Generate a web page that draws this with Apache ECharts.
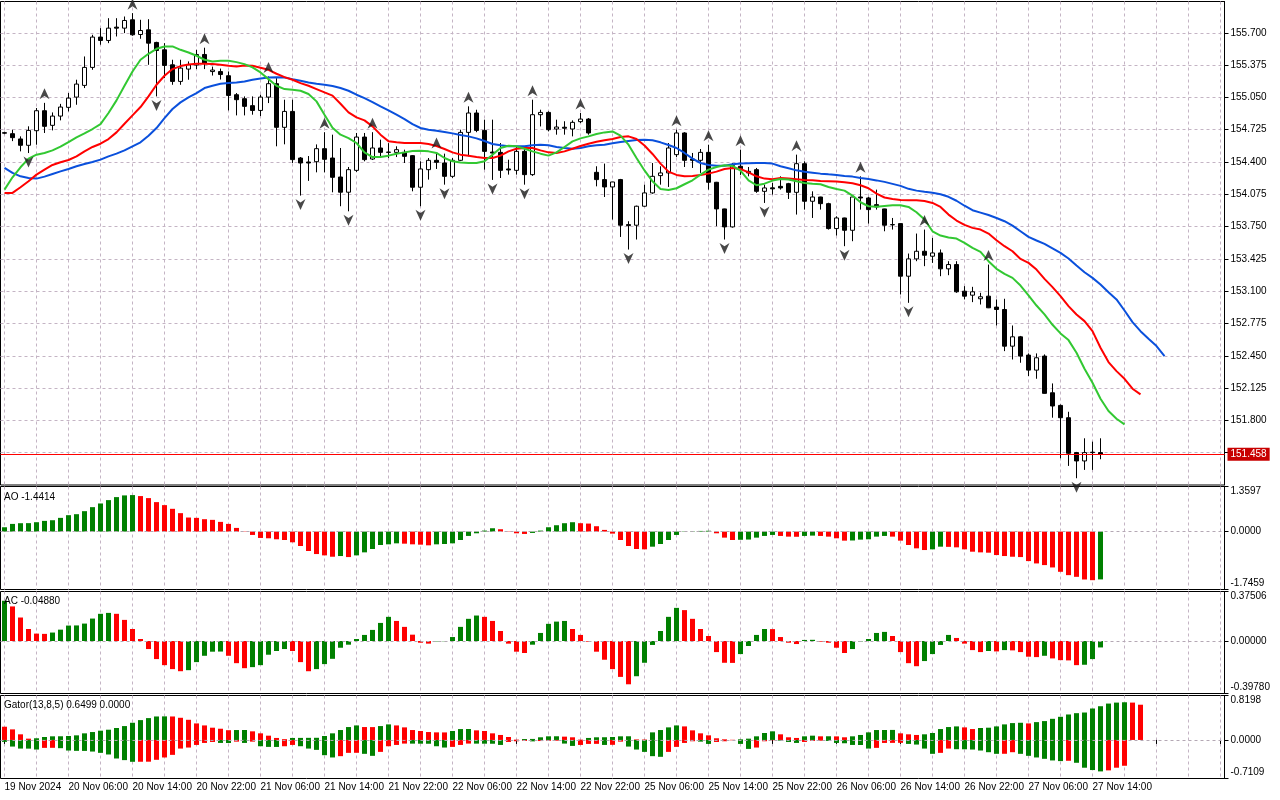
<!DOCTYPE html>
<html>
<head>
<meta charset="utf-8">
<title>H1 chart with Alligator, Fractals, AO, AC, Gator</title>
<script src="https://cdn.jsdelivr.net/npm/echarts@6/dist/echarts.min.js"></script>
<style>
  html, body { margin: 0; padding: 0; background: #fff; }
  #main { width: 1280px; height: 800px; }
</style>
</head>
<body>
<div id="main"></div>
<script>
// ---- price bars (H1) ----
var opens = [
  154.695, 154.685, 154.632, 154.568, 154.715, 154.916, 154.769, 154.862, 154.950, 155.053,
  155.171, 155.352, 155.657, 155.623, 155.757, 155.747, 155.831, 155.683, 155.730, 155.603,
  155.529, 155.378, 155.211, 155.335, 155.375, 155.482, 155.310, 155.310, 155.268, 155.077,
  155.037, 154.967, 154.919, 155.053, 155.188, 154.749, 154.909, 154.440, 154.400, 154.403,
  154.534, 154.440, 154.249, 154.096, 154.316, 154.651, 154.430, 154.541, 154.500, 154.497,
  154.497, 154.464, 154.146, 154.323, 154.417, 154.390, 154.256, 154.417, 154.698, 154.893,
  154.718, 154.500, 154.497, 154.330, 154.316, 154.507, 154.273, 154.876, 154.899, 154.732,
  154.750, 154.732, 154.806, 154.832, 154.296, 154.223, 154.149, 154.223, 153.770, 153.764,
  153.955, 154.089, 154.263, 154.290, 154.474, 154.692, 154.430, 154.417, 154.497, 154.196,
  153.928, 153.747, 154.357, 154.290, 154.323, 154.105, 154.140, 154.155, 154.182, 154.095,
  154.383, 154.005, 154.048, 153.981, 153.730, 153.837, 153.713, 154.048, 154.038, 153.971,
  153.928, 153.770, 153.780, 153.251, 153.425, 153.502, 153.452, 153.485, 153.325, 153.368,
  153.100, 153.060, 153.024, 153.050, 152.940, 152.916, 152.547, 152.641, 152.457, 152.306,
  152.447, 152.078, 151.951, 151.827, 151.476, 151.392, 151.480, 151.476
];
var highs = [
  154.705, 154.725, 154.658, 154.759, 154.943, 154.995, 154.899, 154.985, 155.094, 155.228,
  155.462, 155.680, 155.747, 155.847, 155.847, 155.864, 155.898, 155.831, 155.837, 155.610,
  155.596, 155.429, 155.429, 155.412, 155.529, 155.550, 155.360, 155.340, 155.311, 155.094,
  155.060, 155.060, 155.077, 155.261, 155.244, 155.027, 155.027, 154.450, 154.460, 154.577,
  154.700, 154.675, 154.541, 154.350, 154.692, 154.692, 154.700, 154.625, 154.590, 154.558,
  154.524, 154.470, 154.407, 154.440, 154.500, 154.484, 154.440, 154.725, 154.960, 154.926,
  154.826, 154.826, 154.591, 154.423, 154.558, 154.558, 155.027, 154.926, 154.910, 154.826,
  154.810, 154.819, 154.893, 154.842, 154.357, 154.384, 154.200, 154.230, 153.804, 153.961,
  154.172, 154.390, 154.357, 154.591, 154.725, 154.700, 154.491, 154.531, 154.574, 154.200,
  153.930, 154.390, 154.524, 154.350, 154.340, 154.172, 154.189, 154.256, 154.190, 154.474,
  154.407, 154.105, 154.050, 153.990, 153.854, 153.840, 154.050, 154.256, 154.050, 154.122,
  153.930, 153.837, 153.780, 153.479, 153.680, 153.720, 153.636, 153.520, 153.402, 153.402,
  153.151, 153.144, 153.084, 153.368, 153.017, 153.024, 152.755, 152.650, 152.474, 152.474,
  152.464, 152.172, 151.960, 151.887, 151.483, 151.620, 151.586, 151.620
];
var lows = [
  154.680, 154.610, 154.507, 154.490, 154.574, 154.692, 154.718, 154.819, 154.909, 154.976,
  155.144, 155.328, 155.580, 155.596, 155.663, 155.697, 155.670, 155.640, 155.378, 155.060,
  155.244, 155.177, 155.177, 155.228, 155.335, 155.335, 155.270, 155.230, 154.919, 154.869,
  154.869, 154.876, 154.862, 154.993, 154.558, 154.578, 154.390, 154.062, 154.210, 154.296,
  154.296, 154.095, 153.955, 153.904, 154.300, 154.407, 154.420, 154.440, 154.440, 154.450,
  154.390, 154.105, 153.955, 154.223, 154.330, 154.172, 154.240, 154.410, 154.457, 154.700,
  154.323, 154.220, 154.239, 154.273, 154.273, 154.172, 154.260, 154.758, 154.708, 154.675,
  154.675, 154.658, 154.792, 154.675, 154.155, 154.048, 153.821, 153.646, 153.519, 153.620,
  153.950, 154.080, 154.172, 154.149, 154.450, 154.350, 154.340, 154.290, 154.122, 153.754,
  153.620, 153.740, 154.270, 154.256, 154.090, 153.988, 154.072, 154.122, 154.028, 153.871,
  153.921, 153.837, 153.921, 153.720, 153.660, 153.553, 153.603, 153.921, 153.780, 153.921,
  153.703, 153.720, 153.067, 152.983, 153.402, 153.352, 153.385, 153.251, 153.261, 153.084,
  153.017, 152.990, 152.966, 152.930, 152.755, 152.497, 152.413, 152.380, 152.246, 152.219,
  152.070, 151.827, 151.419, 151.342, 151.218, 151.302, 151.302, 151.409
];
var closes = [
  154.690, 154.645, 154.568, 154.718, 154.916, 154.759, 154.862, 154.953, 155.043, 155.184,
  155.352, 155.657, 155.623, 155.747, 155.747, 155.824, 155.680, 155.723, 155.596, 155.522,
  155.372, 155.211, 155.345, 155.378, 155.482, 155.395, 155.325, 155.280, 155.070, 155.027,
  154.960, 154.919, 155.053, 155.188, 154.749, 154.909, 154.424, 154.390, 154.390, 154.534,
  154.427, 154.246, 154.096, 154.323, 154.651, 154.424, 154.541, 154.497, 154.497, 154.524,
  154.457, 154.146, 154.330, 154.417, 154.397, 154.256, 154.417, 154.698, 154.893, 154.718,
  154.507, 154.490, 154.316, 154.320, 154.507, 154.273, 154.876, 154.899, 154.725, 154.752,
  154.740, 154.799, 154.832, 154.692, 154.223, 154.149, 154.199, 153.764, 153.760, 153.955,
  154.089, 154.256, 154.290, 154.541, 154.692, 154.417, 154.417, 154.497, 154.196, 153.928,
  153.747, 154.364, 154.330, 154.306, 154.105, 154.139, 154.130, 154.139, 154.095, 154.383,
  154.005, 154.048, 153.981, 153.730, 153.837, 153.713, 154.048, 154.038, 153.921, 153.948,
  153.764, 153.768, 153.251, 153.425, 153.502, 153.462, 153.485, 153.325, 153.368, 153.094,
  153.050, 153.094, 153.044, 152.933, 152.916, 152.547, 152.641, 152.447, 152.306, 152.430,
  152.072, 151.945, 151.827, 151.469, 151.392, 151.476, 151.476, 151.458
];

// ---- Alligator lines as drawn (already shifted 8 / 5 / 3 bars) ----
var jaw = [
  154.340, 154.290, 154.256, 154.239, 154.233, 154.253, 154.280, 154.306, 154.330, 154.357,
  154.380, 154.400, 154.424, 154.457, 154.484, 154.517, 154.558, 154.598, 154.665, 154.742,
  154.842, 154.933, 155.000, 155.050, 155.094, 155.144, 155.167, 155.187, 155.194, 155.201,
  155.211, 155.228, 155.241, 155.251, 155.254, 155.251, 155.234, 155.218, 155.201, 155.187,
  155.177, 155.165, 155.144, 155.117, 155.077, 155.043, 155.003, 154.960, 154.919, 154.876,
  154.832, 154.782, 154.742, 154.725, 154.715, 154.702, 154.688, 154.672, 154.658, 154.638,
  154.611, 154.581, 154.568, 154.558, 154.558, 154.558, 154.568, 154.574, 154.568, 154.551,
  154.541, 154.534, 154.541, 154.558, 154.568, 154.574, 154.588, 154.601, 154.611, 154.621,
  154.625, 154.618, 154.598, 154.571, 154.541, 154.491, 154.434, 154.390, 154.370, 154.363,
  154.363, 154.377, 154.384, 154.387, 154.390, 154.390, 154.384, 154.357, 154.337, 154.316,
  154.303, 154.293, 154.283, 154.276, 154.270, 154.260, 154.253, 154.239, 154.229, 154.215,
  154.200, 154.180, 154.160, 154.130, 154.112, 154.100, 154.090, 154.075, 154.050, 154.010,
  153.960, 153.915, 153.891, 153.867, 153.837, 153.804, 153.760, 153.703, 153.646, 153.610,
  153.576, 153.532, 153.486, 153.429, 153.358, 153.291, 153.234, 153.167, 153.090, 153.017,
  152.906, 152.789, 152.698, 152.621, 152.548, 152.447
];
var teeth = [
  154.089, 154.089, 154.146, 154.206, 154.273, 154.323, 154.370, 154.397, 154.420, 154.457,
  154.507, 154.551, 154.584, 154.631, 154.698, 154.785, 154.869, 154.953, 155.060, 155.177,
  155.268, 155.335, 155.365, 155.382, 155.388, 155.388, 155.385, 155.378, 155.368, 155.362,
  155.372, 155.368, 155.348, 155.328, 155.288, 155.254, 155.228, 155.194, 155.167, 155.134,
  155.100, 155.068, 154.986, 154.899, 154.849, 154.819, 154.759, 154.675, 154.608, 154.598,
  154.591, 154.591, 154.591, 154.581, 154.561, 154.531, 154.497, 154.474, 154.464, 154.450,
  154.440, 154.440, 154.464, 154.507, 154.534, 154.541, 154.541, 154.517, 154.497, 154.491,
  154.507, 154.534, 154.561, 154.584, 154.604, 154.618, 154.631, 154.651, 154.658, 154.631,
  154.566, 154.481, 154.384, 154.303, 154.270, 154.256, 154.260, 154.270, 154.283, 154.303,
  154.330, 154.340, 154.330, 154.296, 154.256, 154.233, 154.226, 154.239, 154.233, 154.226,
  154.219, 154.216, 154.209, 154.206, 154.203, 154.196, 154.186, 154.166, 154.136, 154.082,
  154.043, 154.028, 154.018, 154.015, 154.015, 154.008, 153.988, 153.948, 153.871, 153.811,
  153.767, 153.737, 153.720, 153.680, 153.613, 153.553, 153.502, 153.425, 153.385, 153.318,
  153.224, 153.141, 153.050, 152.950, 152.866, 152.799, 152.698, 152.531, 152.387, 152.296,
  152.219, 152.119, 152.062
];
var lips = [
  154.122, 154.246, 154.347, 154.434, 154.474, 154.491, 154.517, 154.554, 154.601, 154.648,
  154.688, 154.732, 154.782, 154.893, 155.020, 155.167, 155.311, 155.429, 155.489, 155.539,
  155.563, 155.563, 155.529, 155.502, 155.469, 155.429, 155.412, 155.419, 155.419, 155.405,
  155.385, 155.352, 155.301, 155.234, 155.167, 155.134, 155.127, 155.117, 155.084, 155.010,
  154.876, 154.745, 154.675, 154.641, 154.591, 154.497, 154.450, 154.450, 154.464, 154.484,
  154.497, 154.511, 154.514, 154.507, 154.491, 154.440, 154.407, 154.394, 154.390, 154.390,
  154.407, 154.474, 154.541, 154.564, 154.558, 154.534, 154.507, 154.484, 154.464, 154.497,
  154.551, 154.608, 154.638, 154.658, 154.681, 154.698, 154.708, 154.665, 154.574, 154.440,
  154.315, 154.206, 154.129, 154.119, 154.136, 154.176, 154.216, 154.273, 154.323, 154.350,
  154.367, 154.360, 154.313, 154.216, 154.166, 154.182, 154.213, 154.229, 154.223, 154.206,
  154.189, 154.182, 154.176, 154.149, 154.129, 154.112, 154.062, 153.995, 153.955, 153.950,
  153.958, 153.965, 153.965, 153.948, 153.894, 153.821, 153.703, 153.660, 153.640, 153.630,
  153.586, 153.536, 153.496, 153.402, 153.325, 153.275, 153.234, 153.157, 153.057, 152.956,
  152.866, 152.762, 152.675, 152.608, 152.481, 152.320, 152.179, 152.018, 151.894, 151.817,
  151.760
];

// bars carrying a fractal
var fractalUpBars = [5, 16, 25, 33, 40, 46, 54, 58, 66, 72, 84, 88, 92, 99, 107, 115, 123];
var fractalDownBars = [3, 19, 37, 43, 52, 55, 61, 65, 78, 90, 95, 105, 113, 134];

// ---- Awesome Oscillator ----
var aoValues = [
  0.131, 0.232, 0.253, 0.255, 0.283, 0.323, 0.343, 0.414, 0.495, 0.525,
  0.616, 0.737, 0.848, 0.949, 1.040, 1.091, 1.101, 1.071, 1.010, 0.889,
  0.798, 0.687, 0.556, 0.424, 0.414, 0.374, 0.354, 0.293, 0.232, 0.111,
  0.010, -0.101, -0.192, -0.202, -0.232, -0.253, -0.323, -0.434, -0.586, -0.677,
  -0.717, -0.758, -0.737, -0.768, -0.717, -0.626, -0.525, -0.404, -0.384, -0.354,
  -0.364, -0.384, -0.394, -0.414, -0.384, -0.374, -0.354, -0.253, -0.131, -0.051,
  0.030, 0.101, 0.071, 0.010, -0.051, -0.071, -0.040, 0.030, 0.131, 0.192,
  0.253, 0.283, 0.253, 0.242, 0.162, 0.051, -0.061, -0.253, -0.434, -0.525,
  -0.535, -0.455, -0.374, -0.253, -0.101, -0.010, 0.010, 0.020, 0.025, -0.051,
  -0.182, -0.253, -0.247, -0.240, -0.182, -0.131, -0.101, -0.131, -0.152, -0.156,
  -0.131, -0.121, -0.131, -0.152, -0.202, -0.273, -0.268, -0.242, -0.232, -0.152,
  -0.131, -0.152, -0.273, -0.404, -0.505, -0.556, -0.535, -0.455, -0.460, -0.475,
  -0.535, -0.606, -0.626, -0.636, -0.707, -0.737, -0.758, -0.768, -0.889, -0.960,
  -1.010, -1.081, -1.212, -1.313, -1.364, -1.444, -1.465, -1.4414
];

// ---- Accelerator Oscillator ----
var acValues = [
  0.305, 0.262, 0.178, 0.091, 0.056, 0.054, 0.064, 0.086, 0.117, 0.118,
  0.132, 0.170, 0.206, 0.213, 0.206, 0.160, 0.091, 0.015, -0.061, -0.137,
  -0.183, -0.213, -0.229, -0.221, -0.160, -0.112, -0.081, -0.080, -0.112, -0.168,
  -0.206, -0.198, -0.183, -0.104, -0.076, -0.061, -0.076, -0.160, -0.229, -0.213,
  -0.175, -0.135, -0.051, -0.028, 0.015, 0.046, 0.084, 0.137, 0.183, 0.152,
  0.107, 0.048, -0.013, -0.020, -0.003, -0.002, 0.030, 0.107, 0.168, 0.193,
  0.183, 0.152, 0.076, -0.020, -0.081, -0.091, -0.028, 0.061, 0.130, 0.147,
  0.152, 0.091, 0.046, -0.005, -0.081, -0.142, -0.213, -0.272, -0.328, -0.267,
  -0.165, -0.030, 0.076, 0.183, 0.251, 0.234, 0.168, 0.091, 0.038, -0.084,
  -0.165, -0.166, -0.099, -0.038, 0.046, 0.091, 0.090, 0.030, -0.013, -0.023,
  0.008, 0.009, -0.005, -0.013, -0.051, -0.091, -0.061, -0.003, 0.015, 0.061,
  0.069, 0.038, -0.084, -0.168, -0.191, -0.152, -0.099, -0.030, 0.046, 0.023,
  -0.020, -0.069, -0.084, -0.076, -0.079, -0.069, -0.071, -0.084, -0.119, -0.122,
  -0.112, -0.132, -0.145, -0.147, -0.183, -0.180, -0.137, -0.0488
];

// ---- Gator Oscillator (upper / lower histograms) ----
var gatorUpper = [
  0.244, 0.195, 0.104, 0.024, 0.031, 0.055, 0.067, 0.068, 0.073, 0.085,
  0.122, 0.146, 0.171, 0.189, 0.220, 0.256, 0.317, 0.366, 0.403, 0.433,
  0.435, 0.433, 0.409, 0.372, 0.305, 0.268, 0.226, 0.207, 0.180, 0.183,
  0.184, 0.159, 0.122, 0.079, 0.037, 0.015, 0.037, 0.038, 0.039, 0.040,
  0.073, 0.122, 0.183, 0.238, 0.268, 0.238, 0.237, 0.256, 0.287, 0.268,
  0.232, 0.183, 0.165, 0.146, 0.140, 0.139, 0.165, 0.201, 0.202, 0.177,
  0.165, 0.122, 0.092, 0.055, 0.006, 0.018, 0.019, 0.049, 0.067, 0.068,
  0.061, 0.049, 0.006, 0.037, 0.049, 0.050, 0.055, 0.067, 0.068, 0.010,
  0.008, 0.140, 0.183, 0.232, 0.268, 0.250, 0.177, 0.122, 0.085, 0.031,
  0.012, 0.003, 0.012, 0.024, 0.067, 0.128, 0.159, 0.104, 0.049, 0.037,
  0.067, 0.079, 0.067, 0.068, 0.066, 0.049, 0.067, 0.092, 0.140, 0.183,
  0.184, 0.185, 0.122, 0.104, 0.092, 0.104, 0.128, 0.201, 0.238, 0.250,
  0.232, 0.201, 0.220, 0.226, 0.250, 0.287, 0.311, 0.317, 0.305, 0.329,
  0.348, 0.390, 0.427, 0.470, 0.494, 0.506, 0.580, 0.622, 0.671, 0.689,
  0.695, 0.689, 0.6499
];
var gatorLower = [
  -0.035, -0.122, -0.159, -0.160, -0.177, -0.146, -0.145, -0.152, -0.195, -0.201,
  -0.202, -0.214, -0.238, -0.268, -0.342, -0.372, -0.403, -0.402, -0.401, -0.366,
  -0.323, -0.275, -0.159, -0.140, -0.092, -0.055, -0.037, -0.055, -0.056, -0.031,
  -0.055, -0.031, -0.116, -0.128, -0.129, -0.116, -0.092, -0.116, -0.159, -0.183,
  -0.281, -0.323, -0.299, -0.238, -0.237, -0.256, -0.293, -0.220, -0.116, -0.092,
  -0.067, -0.068, -0.069, -0.070, -0.116, -0.140, -0.128, -0.092, -0.067, -0.068,
  -0.069, -0.070, -0.092, -0.037, -0.024, -0.018, -0.026, -0.020, -0.015, -0.014,
  -0.067, -0.110, -0.092, -0.073, -0.072, -0.092, -0.090, -0.031, -0.122, -0.177,
  -0.220, -0.299, -0.311, -0.220, -0.128, -0.055, -0.024, -0.031, -0.073, -0.037,
  -0.024, -0.006, -0.073, -0.165, -0.140, -0.024, -0.006, -0.012, -0.037, -0.055,
  -0.037, -0.018, -0.014, -0.018, -0.055, -0.061, -0.092, -0.093, -0.159, -0.146,
  -0.055, -0.054, -0.053, -0.073, -0.085, -0.159, -0.256, -0.238, -0.159, -0.171,
  -0.172, -0.177, -0.195, -0.226, -0.256, -0.255, -0.226, -0.256, -0.293, -0.323,
  -0.348, -0.378, -0.390, -0.384, -0.421, -0.512, -0.555, -0.580, -0.561, -0.512,
  -0.476
];

// ---- axes and labels ----
var timeLabels = ['19 Nov 2024', '20 Nov 06:00', '20 Nov 14:00', '20 Nov 22:00', '21 Nov 06:00',
  '21 Nov 14:00', '21 Nov 22:00', '22 Nov 06:00', '22 Nov 14:00', '22 Nov 22:00', '25 Nov 06:00',
  '25 Nov 14:00', '25 Nov 22:00', '26 Nov 06:00', '26 Nov 14:00', '26 Nov 22:00', '27 Nov 06:00',
  '27 Nov 14:00'];
var slotCount = 153;          // bars that fit the chart width, incl. empty space on the right
var priceMin = 151.150, priceMax = 156.015, priceStep = 0.325;
var lastPrice = 151.458;
var aoTicks = [1.3597, 0, -1.7459], aoTickText = ['1.3597', '0.0000', '-1.7459'];
var acTicks = [0.37506, 0, -0.39780], acTickText = ['0.37506', '0.00000', '-0.39780'];
var gatorTicks = [0.8198, 0, -0.7109], gatorTickText = ['0.8198', '0.0000', '-0.7109'];

var GREEN = '#008000', RED = '#ff0000';
var FF = 'Liberation Sans', FS = 10;
var gridLine = { color: '#c4b4c4', type: [3, 3], width: 1 };

var cats = [];
for (var i = 0; i < slotCount; i++) cats.push(String(i));

var candles = [];
for (var i = 0; i < opens.length; i++) {
  candles.push([opens[i], closes[i], lows[i], highs[i]]);
}

var upMarks = fractalUpBars.map(function (b) { return [b, highs[b]]; });
var downMarks = fractalDownBars.map(function (b) { return [b, lows[b]]; });

// histogram colouring: green when the bar grows, red when it shrinks
function colourBars(vals, firstUp, byMagnitude) {
  return vals.map(function (v, i) {
    var up;
    if (i === 0) up = firstUp;
    else if (byMagnitude) up = Math.abs(v) >= Math.abs(vals[i - 1]);
    else up = v > vals[i - 1];
    return { value: v, itemStyle: { color: up ? GREEN : RED } };
  });
}

function xAxisFor(gi, bottom) {
  return {
    type: 'category', gridIndex: gi, data: cats, boundaryGap: true,
    axisLine: { show: false },
    axisTick: { show: bottom, interval: 7, alignWithLabel: true, length: 4,
      lineStyle: { color: '#000' } },
    axisLabel: {
      show: bottom, interval: 7, align: 'left', margin: 4,
      color: '#000', fontFamily: FF, fontSize: FS,
      formatter: function (v, idx) {
        return idx % 8 === 0 && timeLabels[idx / 8] ? timeLabels[idx / 8] : '';
      }
    },
    splitLine: { show: true, interval: 3, alignWithLabel: true, lineStyle: gridLine }
  };
}

function sideAxis(gi, ticks, texts) {
  return {
    type: 'value', gridIndex: gi, position: 'right',
    min: ticks[2], max: ticks[0],
    axisLine: { show: true, lineStyle: { color: '#000' } },
    axisTick: { show: true, length: 4, customValues: ticks, lineStyle: { color: '#000' } },
    axisLabel: {
      customValues: ticks, margin: 6, color: '#000', fontFamily: FF, fontSize: FS,
      formatter: function (v) {
        for (var k = 0; k < ticks.length; k++) {
          if (Math.abs(v - ticks[k]) < 1e-9) {
            if (k === 0) return '{t|' + texts[k] + '}';
            if (k === 2) return '{b|' + texts[k] + '}';
            return texts[k];
          }
        }
        return '';
      },
      rich: {
        t: { padding: [10, 0, 0, 0], color: '#000', fontFamily: FF, fontSize: FS },
        b: { padding: [0, 0, 12, 0], color: '#000', fontFamily: FF, fontSize: FS }
      }
    },
    splitLine: { show: false }
  };
}

function zeroLine() {
  return {
    silent: true, symbol: ['none', 'none'], animation: false,
    label: { show: false },
    lineStyle: { color: '#b4a8b4', type: [3, 3], width: 1 },
    data: [{ yAxis: 0 }]
  };
}

function panelTitle(text, top) {
  return { text: text, left: 4, top: top, padding: 0,
    textStyle: { fontFamily: FF, fontSize: FS, fontWeight: 'normal', color: '#000' } };
}

function frame(top, height) {
  return { left: 0.5, top: top, width: 1224, height: height,
    show: true, borderColor: '#000', borderWidth: 1 };
}

var chart = echarts.init(document.getElementById('main'));
chart.setOption({
  animation: false,
  backgroundColor: '#fff',
  title: [
    panelTitle('AO -1.4414', 492),
    panelTitle('AC -0.04880', 596),
    panelTitle('Gator(13,8,5) 0.6499 0.0000', 700)
  ],
  grid: [frame(1.5, 483.5), frame(486.5, 103), frame(591.5, 102), frame(695.5, 83)],
  xAxis: [xAxisFor(0, false), xAxisFor(1, false), xAxisFor(2, false), xAxisFor(3, true)],
  yAxis: [
    {
      type: 'value', gridIndex: 0, position: 'right',
      min: priceMin, max: priceMax, interval: priceStep,
      axisLine: { show: true, lineStyle: { color: '#000' } },
      axisTick: { show: true, length: 4, lineStyle: { color: '#000' } },
      axisLabel: {
        margin: 6, color: '#000', fontFamily: FF, fontSize: FS,
        showMinLabel: false, showMaxLabel: false,
        formatter: function (v) {
          if (Math.abs(v - lastPrice) < priceStep / 2) return '';
          return v.toFixed(3);
        }
      },
      splitLine: { show: true, showMinLine: false, showMaxLine: false, lineStyle: gridLine }
    },
    sideAxis(1, aoTicks, aoTickText),
    sideAxis(2, acTicks, acTickText),
    sideAxis(3, gatorTicks, gatorTickText)
  ],
  series: [
    {
      name: 'Price', type: 'candlestick', xAxisIndex: 0, yAxisIndex: 0,
      data: candles, barWidth: 5, z: 2,
      itemStyle: { color: '#fff', color0: '#000', borderColor: '#000', borderColor0: '#000', borderWidth: 1 },
      markLine: {
        silent: true, symbol: ['none', 'none'], animation: false,
        lineStyle: { color: '#ff0000', width: 1, type: 'solid' },
        label: {
          show: true, position: 'end', distance: 3,
          formatter: lastPrice.toFixed(3),
          color: '#fff', backgroundColor: '#c80000', padding: [2, 3, 1, 3],
          fontFamily: FF, fontSize: FS
        },
        data: [{ yAxis: lastPrice }]
      }
    },
    { name: 'Jaw', type: 'line', xAxisIndex: 0, yAxisIndex: 0, data: jaw, showSymbol: false, z: 3,
      lineStyle: { color: '#0a50dc', width: 2 } },
    { name: 'Teeth', type: 'line', xAxisIndex: 0, yAxisIndex: 0, data: teeth, showSymbol: false, z: 3,
      lineStyle: { color: '#ff0000', width: 2 } },
    { name: 'Lips', type: 'line', xAxisIndex: 0, yAxisIndex: 0, data: lips, showSymbol: false, z: 3,
      lineStyle: { color: '#32c832', width: 2 } },
    { name: 'Fractal up', type: 'scatter', xAxisIndex: 0, yAxisIndex: 0, data: upMarks, z: 4,
      symbol: 'path://M5,0 L10,10 L5,7 L0,10 Z', symbolSize: [10, 11], symbolOffset: [0, -9],
      itemStyle: { color: '#1a1a1a' } },
    { name: 'Fractal down', type: 'scatter', xAxisIndex: 0, yAxisIndex: 0, data: downMarks, z: 4,
      symbol: 'path://M0,0 L5,3 L10,0 L5,10 Z', symbolSize: [10, 11], symbolOffset: [0, 9],
      itemStyle: { color: '#1a1a1a' } },
    { name: 'AO', type: 'bar', xAxisIndex: 1, yAxisIndex: 1, barWidth: 5,
      data: colourBars(aoValues, true, false), markLine: zeroLine() },
    { name: 'AC', type: 'bar', xAxisIndex: 2, yAxisIndex: 2, barWidth: 5,
      data: colourBars(acValues, true, false), markLine: zeroLine() },
    { name: 'Gator upper', type: 'bar', xAxisIndex: 3, yAxisIndex: 3, barWidth: 5, barGap: '-100%',
      data: colourBars(gatorUpper, false, true) },
    { name: 'Gator lower', type: 'bar', xAxisIndex: 3, yAxisIndex: 3, barWidth: 5, barGap: '-100%',
      data: colourBars(gatorLower, true, true), markLine: zeroLine() }
  ]
});
</script>
</body>
</html>
